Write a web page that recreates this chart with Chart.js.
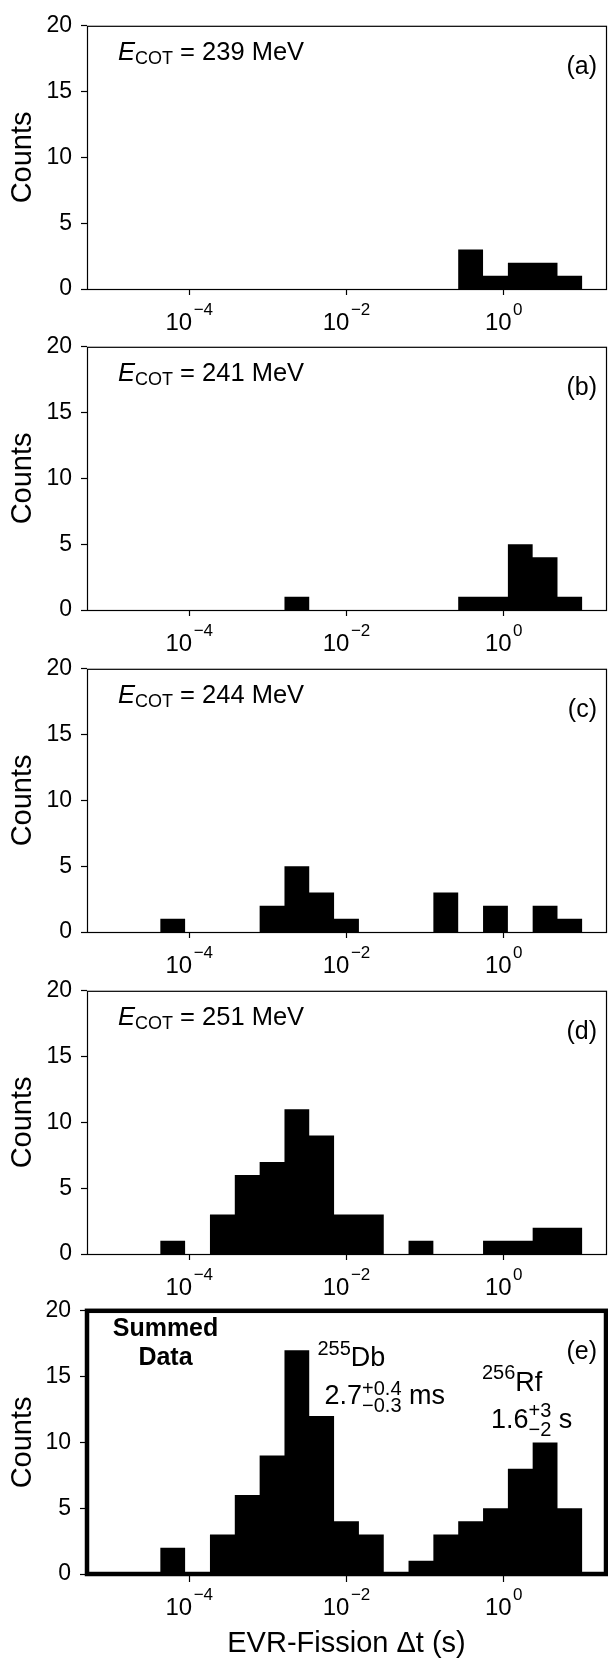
<!DOCTYPE html>
<html lang="en">
<head>
  <meta charset="UTF-8" />
  <title>EVR-Fission time distributions</title>
  <script src="https://cdn.jsdelivr.net/npm/chart.js@4.4.0/dist/chart.umd.min.js"></script>
  <style>
    body { margin: 0; background: #fff; overflow: hidden; }
    #wrap { position: relative; width: 608px; height: 1658px; }
    canvas { position: absolute; left: 0; }
  </style>
</head>
<body>
  <div id="wrap"></div>

  <script>
    // log10 of the histogram bin edges, in seconds (19 bins from 1e-5 s to 10 s)
    const binEdgeExp = [-5.000, -4.684, -4.368, -4.053, -3.737, -3.421, -3.105, -2.789, -2.474, -2.158,
                        -1.842, -1.526, -1.211, -0.895, -0.579, -0.263, 0.053, 0.368, 0.684, 1.000];

    // counts per bin for each beam energy
    const counts239 = [0, 0, 0, 0, 0, 0, 0, 0, 0, 0, 0, 0, 0, 0, 3, 1, 2, 2, 1];
    const counts241 = [0, 0, 0, 0, 0, 0, 0, 1, 0, 0, 0, 0, 0, 0, 1, 1, 5, 4, 1];
    const counts244 = [0, 0, 1, 0, 0, 0, 2, 5, 3, 1, 0, 0, 0, 3, 0, 2, 0, 2, 1];
    const counts251 = [0, 0, 1, 0, 3, 6, 7, 11, 9, 3, 3, 0, 1, 0, 0, 1, 1, 2, 2];
    const countsSum = [0, 0, 2, 0, 3, 6, 9, 17, 12, 4, 3, 0, 1, 3, 4, 5, 8, 10, 5];

    const panelCounts = [counts239, counts241, counts244, counts251, countsSum];
    const panelLetters = ['(a)', '(b)', '(c)', '(d)', '(e)'];
    const beamEnergies = [239, 241, 244, 251, null];
    const tickExponents = [-4, -2, 0];

    const FONT = '"Liberation Sans", Arial, Helvetica, sans-serif';
    Chart.defaults.font.family = FONT;
    Chart.defaults.color = '#000';

    // top of each plot area on the page
    const panelTops = [21, 342, 664, 986, 1306];
    const PLOT_H = 268;
    const PAD_TOP = 18;

    function font(size, style) {
      return (style || '') + ' ' + size + 'px ' + FONT;
    }

    // draw a row of text pieces (with optional raised/lowered pieces), returns end x
    function drawRuns(ctx, x, y, runs, measureOnly) {
      for (const r of runs) {
        ctx.font = font(r.size, r.style);
        if (r.stack) {
          let w = 0;
          r.stack.forEach((t, k) => {
            if (!measureOnly) ctx.fillText(t, x, y + r.dy[k]);
            w = Math.max(w, ctx.measureText(t).width);
          });
          x += w;
        } else {
          x += r.gap || 0;
          if (!measureOnly) ctx.fillText(r.text, x, y + (r.dy || 0));
          x += ctx.measureText(r.text).width;
        }
      }
      return x;
    }

    function powerLabel(ctx, cx, y, exp) {
      const runs = [
        { text: '10', size: 24 },
        { text: exp < 0 ? '\u2212' + (-exp) : String(exp), size: 17, dy: -15.5, gap: 1.5 }
      ];
      const w = drawRuns(ctx, 0, 0, runs, true);
      drawRuns(ctx, cx - w / 2, y, runs);
    }

    function histPoints(counts) {
      const pts = counts.map((c, i) => ({ x: Math.pow(10, binEdgeExp[i]), y: c }));
      pts.push({ x: Math.pow(10, binEdgeExp[counts.length]), y: 0 });
      return pts;
    }

    const wrap = document.getElementById('wrap');

    panelCounts.forEach((counts, i) => {
      const last = i === panelCounts.length - 1;
      const top = panelTops[i] - PAD_TOP;
      const h = last ? 1658 - top : PAD_TOP + PLOT_H + 52;
      const xAxisH = h - PAD_TOP - PLOT_H;

      const canvas = document.createElement('canvas');
      canvas.width = 608;
      canvas.height = h;
      canvas.style.top = top + 'px';
      wrap.appendChild(canvas);

      const panelText = {
        id: 'panelText',
        afterDraw(chart) {
          const { ctx, chartArea: a } = chart;
          ctx.save();

          // axes frame
          ctx.strokeStyle = '#000';
          if (last) {
            ctx.lineWidth = 4.5;
            ctx.strokeRect(a.left, a.top, a.right - a.left, a.bottom - a.top);
          } else {
            ctx.lineWidth = 1.2;
            ctx.strokeRect(a.left + 0.5, a.top + 0.5, a.right - a.left, a.bottom - a.top);
          }

          ctx.fillStyle = '#000';
          ctx.textBaseline = 'alphabetic';
          ctx.textAlign = 'left';

          // x tick labels as powers of ten
          const xs = chart.scales.x;
          tickExponents.forEach(e => powerLabel(ctx, xs.getPixelForValue(Math.pow(10, e)), a.bottom + 41, e));

          // panel letter
          ctx.textAlign = 'right';
          ctx.font = font(25);
          ctx.fillText(panelLetters[i], a.right - 9, a.top + 48);
          ctx.textAlign = 'left';

          if (!last) {
            drawRuns(ctx, a.left + 31, a.top + 34, [
              { text: 'E', size: 25.5, style: 'italic' },
              { text: 'COT', size: 18, dy: 4.5 },
              { text: ' = ' + beamEnergies[i] + ' MeV', size: 25.5 }
            ]);
          } else {
            ctx.textAlign = 'center';
            ctx.font = font(25, 'bold');
            ctx.fillText('Summed', a.left + 78.5, a.top + 25.5);
            ctx.fillText('Data', a.left + 78.5, a.top + 54);
            ctx.textAlign = 'left';

            drawRuns(ctx, a.left + 230.5, a.top + 55.5, [
              { text: '255', size: 20, dy: -11.5 },
              { text: 'Db', size: 27 }
            ]);
            drawRuns(ctx, a.left + 237.5, a.top + 93, [
              { text: '2.7', size: 27 },
              { stack: ['+0.4', '\u22120.3'], size: 20, dy: [-9, 8] },
              { text: ' ms', size: 27 }
            ]);
            drawRuns(ctx, a.left + 395, a.top + 80, [
              { text: '256', size: 20, dy: -11.5 },
              { text: 'Rf', size: 27 }
            ]);
            drawRuns(ctx, a.left + 404, a.top + 117, [
              { text: '1.6', size: 27 },
              { stack: ['+3', '\u22122'], size: 20, dy: [-10.5, 8.5] },
              { text: ' s', size: 27 }
            ]);
          }
          ctx.restore();
        }
      };

      new Chart(canvas.getContext('2d'), {
        type: 'line',
        data: {
          datasets: [{
            data: histPoints(counts),
            stepped: true,
            fill: 'origin',
            backgroundColor: '#000',
            borderColor: '#000',
            borderWidth: 0,
            pointRadius: 0,
            tension: 0
          }]
        },
        options: {
          responsive: false,
          animation: false,
          layout: { padding: { top: PAD_TOP, right: 2, left: 0, bottom: 0 } },
          plugins: { legend: { display: false }, tooltip: { enabled: false } },
          scales: {
            x: {
              type: 'logarithmic',
              min: 5e-6,
              max: 20,
              afterBuildTicks: s => { s.ticks = tickExponents.map(e => ({ value: Math.pow(10, e) })); },
              afterFit: s => { s.height = xAxisH; },
              ticks: { display: false },
              grid: { drawOnChartArea: false, tickLength: last ? 8 : 6, tickWidth: 1.2, tickColor: '#000' },
              border: { display: false },
              title: {
                display: last,
                text: 'EVR-Fission \u0394t (s)',
                color: '#000',
                font: { size: 29, lineHeight: 1 },
                padding: { top: 0, bottom: 0 }
              }
            },
            y: {
              min: 0,
              max: 20,
              afterFit: s => { s.width = 87; },
              ticks: { stepSize: 5, padding: 9, color: '#000', font: { size: 23 } },
              grid: { drawOnChartArea: false, tickLength: last ? 7 : 6, tickWidth: 1.2, tickColor: '#000' },
              border: { display: false },
              title: {
                display: true,
                text: 'Counts',
                color: '#000',
                font: { size: 29, lineHeight: 1 },
                padding: { top: 8, bottom: 0 }
              }
            }
          }
        },
        plugins: [panelText]
      });
    });
  </script>
</body>
</html>
